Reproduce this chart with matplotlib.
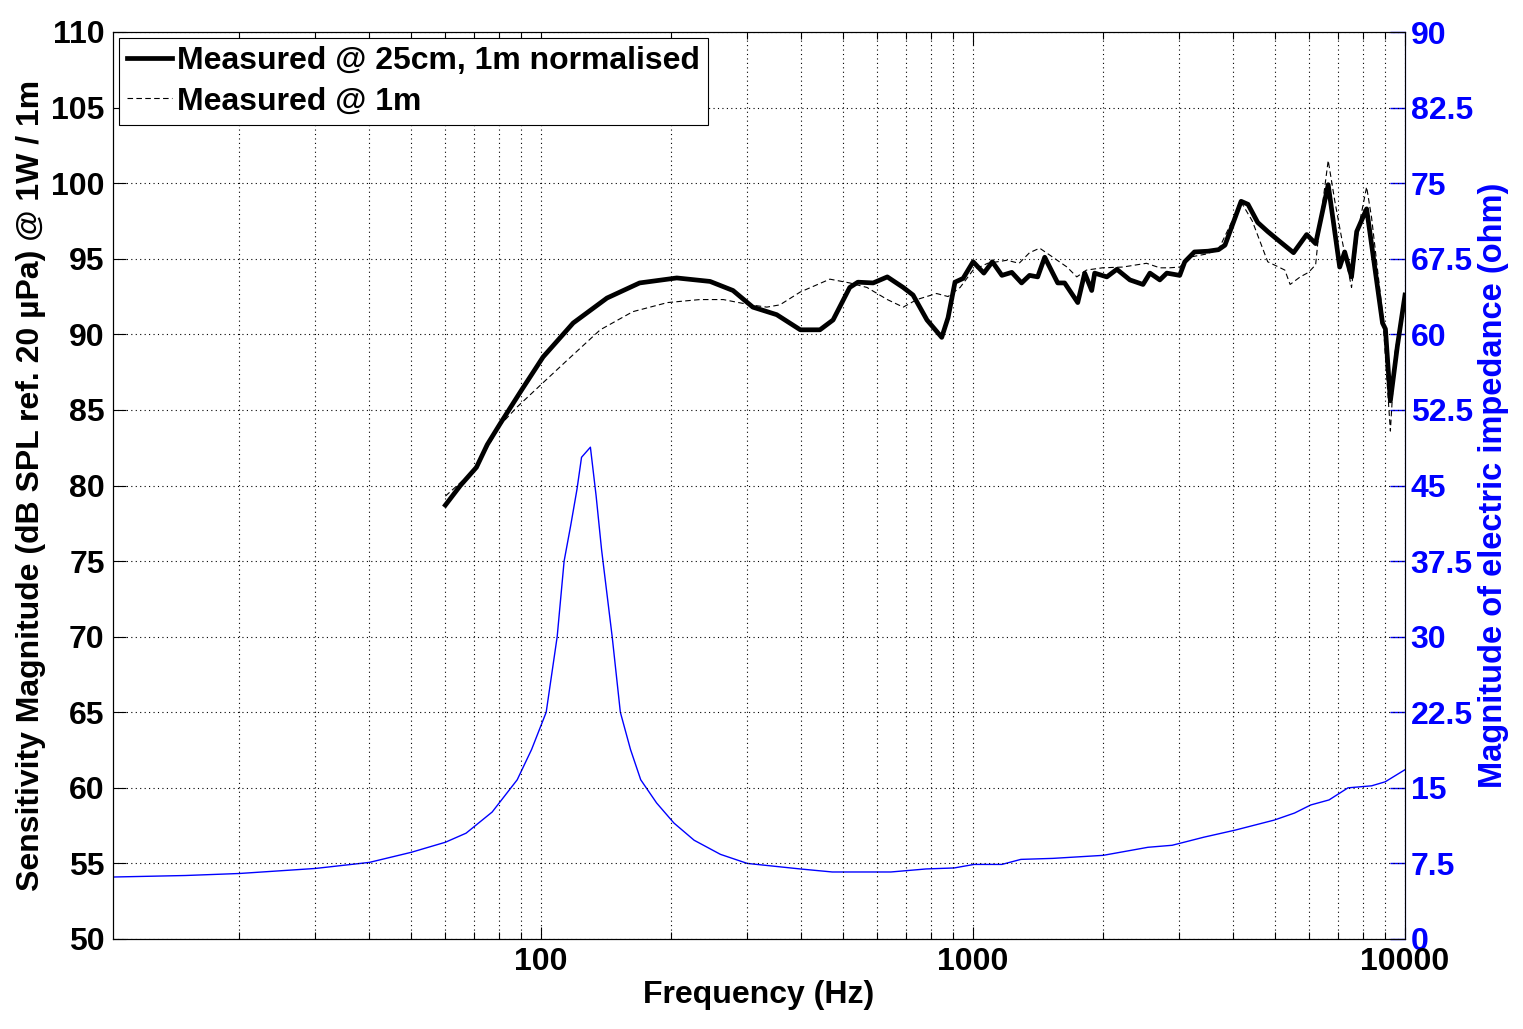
import numpy as np
import matplotlib
matplotlib.use("Agg")
import matplotlib.pyplot as plt
from matplotlib.ticker import FixedLocator, NullFormatter

plt.rcParams['font.family'] = ['Liberation Sans', 'DejaVu Sans']
plt.rcParams['font.weight'] = 'bold'

# measured @ 25cm, 1m normalised
f_near = [60, 65, 70.8, 75, 80.4, 90, 101, 118.6, 142, 169, 206, 246, 278, 309, 351, 398,
          442, 474, 518, 541, 587, 633, 689, 726, 782, 846, 875, 908, 948, 1000, 1059,
          1108, 1166, 1229, 1295, 1351, 1411, 1465, 1570, 1629, 1747, 1813, 1882, 1912,
          2040, 2152, 2307, 2474, 2567, 2706, 2809, 3009, 3091, 3254, 3500, 3700, 3830,
          4174, 4330, 4560, 4810, 5100, 5520, 5920, 6210, 6640, 7060, 7250, 7520, 7730,
          8150, 8870, 9010, 9250, 9600, 10000]
spl_near = [78.7, 80.0, 81.2, 82.7, 84.1, 86.3, 88.5, 90.75, 92.4, 93.4, 93.73, 93.5, 92.9,
            91.8, 91.3, 90.3, 90.3, 90.95, 93.1, 93.45, 93.4, 93.8, 93.1, 92.6, 90.95, 89.8,
            91.1, 93.45, 93.7, 94.8, 94.05, 94.8, 93.9, 94.1, 93.4, 93.9, 93.8, 95.1, 93.4,
            93.4, 92.1, 94.05, 92.9, 94.05, 93.8, 94.3, 93.6, 93.3, 94.05, 93.6, 94.05, 93.9,
            94.8, 95.45, 95.5, 95.6, 95.9, 98.8, 98.6, 97.4, 96.8, 96.2, 95.4, 96.6, 96.0,
            99.9, 94.45, 95.45, 93.8, 96.8, 98.3, 90.75, 90.35, 85.6, 89.2, 92.6]

# measured @ 1m
f_far = [60, 70, 80.4, 88, 101, 115, 137, 163, 196, 233, 264, 305, 333, 357, 398, 466, 518,
         568, 633, 689, 741, 823, 875, 933, 1000, 1081, 1198, 1278, 1351, 1426, 1530, 1650,
         1738, 1830, 1993, 2220, 2520, 2706, 2850, 3009, 3165, 3450, 3700, 4174, 4430, 4810,
         5100, 5270, 5420, 5720, 5980, 6210, 6310, 6640, 6880, 7130, 7520, 7800, 8150, 8370,
         8870, 9250, 9480, 10000]
spl_far = [79.3, 81.0, 84.0, 85.2, 86.8, 88.3, 90.3, 91.5, 92.1, 92.3, 92.3, 91.95, 91.8,
           91.95, 92.8, 93.65, 93.4, 93.1, 92.3, 91.8, 92.3, 92.7, 92.5, 93.1, 94.25, 94.7,
           94.9, 94.7, 95.4, 95.7, 95.1, 94.45, 93.8, 94.25, 94.4, 94.45, 94.7, 94.4, 94.4,
           94.45, 95.1, 95.3, 95.6, 98.75, 97.5, 94.8, 94.45, 94.25, 93.3, 93.8, 94.1, 94.6,
           96.6, 101.5, 98.8, 96.4, 93.1, 97.0, 99.75, 97.7, 91.4, 83.6, 88.8, 92.6]

# electric impedance
f_imp = [10.2, 15, 20, 30, 40, 50, 60, 67, 77, 88, 95, 102.7, 108.9, 113, 117, 121, 124, 130,
         134, 138, 146, 152.5, 161, 170, 185, 203, 226, 260, 300, 398, 472, 645, 778, 904,
         1005, 1166, 1290, 1530, 2000, 2540, 2890, 3420, 4040, 4980, 5550, 6050, 6670, 7380,
         8370, 9000, 10000]
z_imp = [6.15, 6.3, 6.5, 7.0, 7.6, 8.6, 9.6, 10.5, 12.6, 15.8, 18.8, 22.5, 30, 37.5, 41, 44.6,
         47.8, 48.8, 44, 38.6, 30, 22.5, 18.8, 15.8, 13.5, 11.5, 9.8, 8.4, 7.5, 6.95, 6.65,
         6.65, 6.95, 7.05, 7.4, 7.4, 7.9, 8.0, 8.3, 9.1, 9.3, 10.1, 10.8, 11.8, 12.5, 13.3,
         13.8, 15.0, 15.2, 15.6, 16.8]

left_ticks = np.arange(50, 111, 5)
right_ticks = np.arange(0, 90.1, 7.5)

fig = plt.figure(figsize=(15.23, 10.29), dpi=100)
ax = fig.add_axes([113/1523, 90/1029, 1292/1523, 907/1029])

ax.plot(f_near, spl_near, color='black', lw=3.4, label='Measured @ 25cm, 1m normalised')
ax.plot(f_far, spl_far, color='black', lw=0.8, dashes=(5, 3), label='Measured @ 1m')

ax.set_xscale('log')
ax.set_xlim(10.2, 10000)
ax.set_ylim(50, 110)
ax.set_yticks(left_ticks)
ax.xaxis.set_major_locator(FixedLocator([100, 1000, 10000]))
ax.set_xticklabels(['100', '1000', '10000'])
minors = [m * d for d in [10, 100, 1000] for m in range(2, 10)]
ax.xaxis.set_minor_locator(FixedLocator(minors))
ax.xaxis.set_minor_formatter(NullFormatter())
ax.grid(True, which='both', axis='x', color='black', ls=(0, (1, 3)), lw=0.8)
ax.grid(True, which='major', axis='y', color='black', ls=(0, (1, 3)), lw=0.8)
ax.tick_params(axis='both', which='both', direction='in', top=True, right=False,
               labelsize=23, pad=6, width=0.8)
ax.tick_params(which='major', length=9)
ax.tick_params(which='minor', length=5)
ax.set_xlabel('Frequency (Hz)', fontsize=23, fontweight='bold', labelpad=2)
ax.set_ylabel('Sensitivity Magnitude (dB SPL ref. 20 µPa) @ 1W / 1m', fontsize=23,
              fontweight='bold', labelpad=4)

leg = ax.legend(loc='upper left', prop={'size': 23, 'weight': 'bold'}, frameon=True,
                fancybox=False, edgecolor='black', framealpha=1, borderaxespad=0.2,
                handlelength=1.4, handletextpad=0.15, borderpad=0.25, labelspacing=0.32)
leg.get_frame().set_linewidth(0.8)

ax2 = ax.twinx()
ax2.plot(f_imp, z_imp, color='blue', lw=1.0)
ax2.set_ylim(0, 90)
ax2.set_yticks(right_ticks)
ax2.set_yticklabels(['%g' % v for v in right_ticks])
ax2.tick_params(axis='y', direction='in', colors='blue', labelsize=23, length=11, pad=4, width=1.0)
ax2.spines['right'].set_color('blue')
ax2.set_ylabel('Magnitude of electric impedance (ohm)', fontsize=23.5, fontweight='bold',
               color='blue', labelpad=4)
ax2.set_zorder(ax.get_zorder() - 1)
ax.patch.set_visible(False)

fig.savefig('out.png', dpi=100)
